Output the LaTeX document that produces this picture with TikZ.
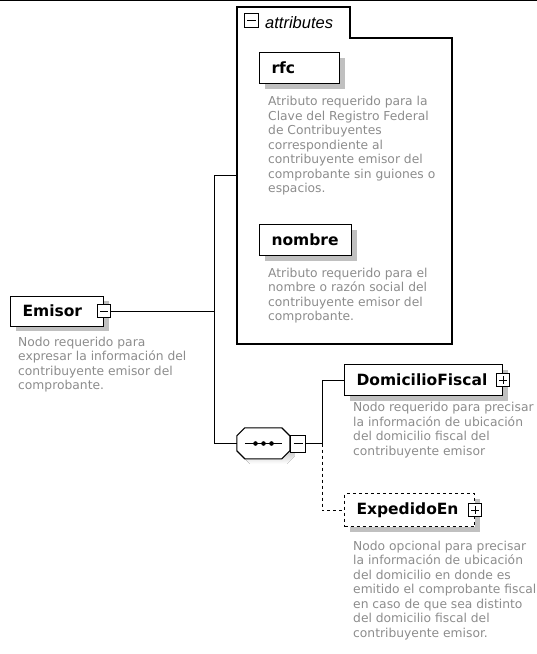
\documentclass[tikz,border=0pt]{standalone}
\usepackage{fontspec}
\setmainfont{DejaVu Sans}
\newfontfamily\attrfont{Liberation Sans}
\usetikzlibrary{shadows}
\definecolor{desc}{RGB}{140,140,140}
\definecolor{shade}{RGB}{192,192,192}
\begin{document}
\begin{tikzpicture}[x=1pt,y=-1pt,line join=miter,
	elem/.style={draw, fill=white, line width=1.1pt, align=left, inner xsep=12pt, inner ysep=0pt,
		font=\fontsize{15.5}{18}\selectfont\bfseries, minimum height=31pt, anchor=north west,
		drop shadow={shadow xshift=5pt, shadow yshift=-5pt, fill=shade, opacity=1}},
	pmbox/.style={draw, fill=white, line width=0.9pt, minimum size=12.5pt, inner sep=0pt},
	minus/.style={pmbox, path picture={\draw[line width=0.9pt]
		([xshift=2.5pt]path picture bounding box.west) -- ([xshift=-2.5pt]path picture bounding box.east);}},
	plus/.style={pmbox, path picture={\draw[line width=0.9pt]
		([xshift=2.5pt]path picture bounding box.west) -- ([xshift=-2.5pt]path picture bounding box.east)
		([yshift=2.5pt]path picture bounding box.south) -- ([yshift=-2.5pt]path picture bounding box.north);}},
	note/.style={anchor=north west, align=left, inner sep=0pt, text=desc, font=\fontsize{12.3}{14.5}\selectfont},
	wire/.style={line width=1pt}]
	\useasboundingbox (0,0) rectangle (537,654);
	\draw[line width=1.2pt] (0,0.6)--(537,0.6);
	% attributes
	\draw[line width=1.1pt] (237,344)--(237,7)--(350,7)--(350,38)--(452,38)--(452,344)--cycle;
	\node[minus, minimum size=14pt] (attrpm) at (251.5,20.5) {};
	\node[anchor=base west, inner sep=0pt, font=\attrfont\itshape\fontsize{16.5}{18}\selectfont] (attrlbl) at (265,28.5) {attributes};
	\coordinate (attrin) at (237,175);
	\node[elem, text width=56pt] (rfc) at (259,52) {rfc};
	\node[note] (rfcnote) at (268,96.3) {Atributo requerido para la\\Clave del Registro Federal\\de Contribuyentes\\correspondiente al\\contribuyente emisor del\\comprobante sin guiones o\\espacios.};
	\node[elem, text width=68pt] (nombre) at (259,224) {nombre};
	\node[note] (nombrenote) at (268,267.8) {Atributo requerido para el\\nombre o razón social del\\contribuyente emisor del\\comprobante.};
	% root
	\node[elem, text width=69pt, minimum height=30pt] (emisor) at (10,295.5) {Emisor};
	\node[minus] (emisorpm) at (emisor.east) {};
	\node[note] (emisornote) at (18,336.8) {Nodo requerido para\\expresar la información del\\contribuyente emisor del\\comprobante.};
	% sequence
	\node[minimum width=53pt, minimum height=31pt, inner sep=0pt] (seq) at (263.5,443.5) {};
	\fill[shade] ([shift={(5pt,-5pt)}]seq.north west) ++(8,0) -- ++(37,0) -- ++(8,8) -- ++(0,15) -- ++(-8,8) -- ++(-37,0) -- ++(-8,-8) -- ++(0,-15) -- cycle;
	\draw[line width=1.1pt, fill=white] (seq.north west) ++(8,0) -- ++(37,0) -- ++(8,8) -- ++(0,15) -- ++(-8,8) -- ++(-37,0) -- ++(-8,-8) -- ++(0,-15) -- cycle;
	\draw[wire] ([xshift=8pt]seq.west)--([xshift=-8pt]seq.east);
	\foreach \x in {-8,0,8}
	\fill ([xshift=\x pt]seq.center) circle (2.3pt);
	\node[minus, minimum width=15pt, minimum height=17pt, path picture={\draw[line width=0.9pt]
		([xshift=3pt]path picture bounding box.west) -- ([xshift=-3pt]path picture bounding box.east);}] (seqpm) at (298,443.5) {};
	% children
	\node[elem, text width=134pt] (domfis) at (344,364) {DomicilioFiscal};
	\node[plus] (domfispm) at (domfis.east) {};
	\node[note] (domfisnote) at (353,402.4) {Nodo requerido para precisar\\la información de ubicación\\del domicilio fiscal del\\contribuyente emisor};
	\node[elem, text width=106pt, minimum height=33pt, dash pattern=on 3pt off 3pt] (expen) at (344,493) {ExpedidoEn};
	\node[plus] (expenpm) at (expen.east) {};
	\node[note] (expennote) at (353,540.9) {Nodo opcional para precisar\\la información de ubicación\\del domicilio en donde es\\emitido el comprobante fiscal\\en caso de que sea distinto\\del domicilio fiscal del\\contribuyente emisor.};
	% connectors
	\coordinate (hubx) at (214,0);
	\coordinate (forkx) at (322,0);
	\draw[wire] (emisorpm.east)--(emisorpm.east -| hubx) coordinate (hub);
	\draw[wire] (hub)|-(attrin);
	\draw[wire] (hub)|-(seq.west);
	\draw[wire] (seq.east)--(seqpm.west);
	\draw[wire] (seqpm.east)--(seqpm.east -| forkx) coordinate (fork);
	\draw[wire] (fork)|-(domfis.west);
	\draw[wire, dash pattern=on 3pt off 3pt] (fork)|-(expen.west);
\end{tikzpicture}
\end{document}
